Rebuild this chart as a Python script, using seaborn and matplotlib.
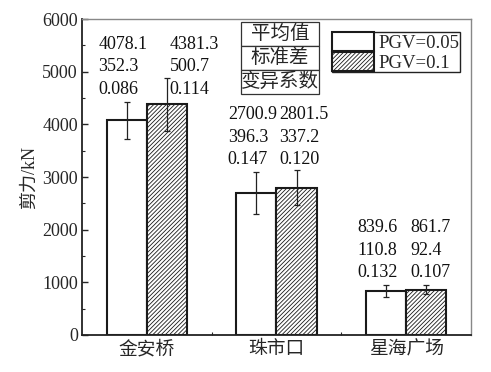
import pandas as pd
import seaborn as sns
import matplotlib.pyplot as plt
from matplotlib.patches import Patch
from matplotlib.ticker import MultipleLocator, FixedLocator

# ---------------- datos ----------------
sitios = ['金安桥', '珠市口', '星海广场']
niveles = ['PGV=0.05', 'PGV=0.1']
media_005 = [4078.1, 2700.9, 839.6]
media_01 = [4381.3, 2801.5, 861.7]
std_005 = [352.3, 396.3, 110.8]
std_01 = [500.7, 337.2, 92.4]
cv_005 = ['0.086', '0.147', '0.132']
cv_01 = ['0.114', '0.120', '0.107']
filas_tabla = ['平均值', '标准差', '变异系数']

df = pd.DataFrame({
    'sitio': sitios * 2,
    'nivel': [niveles[0]] * 3 + [niveles[1]] * 3,
    'media': media_005 + media_01,
})

sns.set_theme(style='ticks')
plt.rcParams['font.family'] = ['Liberation Serif', 'Noto Sans CJK SC']
plt.rcParams['hatch.linewidth'] = 0.6
plt.rcParams['axes.unicode_minus'] = False

fig = plt.figure(figsize=(4.91, 3.72), dpi=100)
ax = fig.add_axes([0.167, 0.0995, 0.792, 0.849])

sns.barplot(data=df, x='sitio', y='media', hue='nivel', hue_order=niveles,
            palette=['white', 'white'], width=0.62, edgecolor='#1a1a1a',
            linewidth=1.5, errorbar=None, legend=False, ax=ax, saturation=1)

rayado = '////////'
stds = [std_005, std_01]
contenedores = list(ax.containers)
for i, cont in enumerate(contenedores):
    xs = [p.get_x() + p.get_width() / 2 for p in cont.patches]
    hs = [p.get_height() for p in cont.patches]
    for p in cont.patches:
        if i == 1:
            p.set_hatch(rayado)
    ax.errorbar(xs, hs, yerr=stds[i], fmt='none', ecolor='#222222',
                elinewidth=0.9, capsize=2.2, capthick=0.9, zorder=5)

# etiquetas de texto (media / desviación / coeficiente)
desp_col2 = [31, 16.5, 17.6]  # desplazamiento en puntos de la segunda columna
bars1 = contenedores[0].patches
for j in range(3):
    xc = bars1[j].get_x() + bars1[j].get_width() / 2
    ytop = media_005[j] + std_005[j]
    t1 = f'{media_005[j]:.1f}\n{std_005[j]:.1f}\n{cv_005[j]}'
    t2 = f'{media_01[j]:.1f}\n{std_01[j]:.1f}\n{cv_01[j]}'
    ax.annotate(t1, (xc, ytop), xytext=(-20.5, 2.5), textcoords='offset points',
                ha='left', va='bottom', fontsize=13, linespacing=1.45, color='#111111')
    ax.annotate(t2, (xc, ytop), xytext=(desp_col2[j], 2.5), textcoords='offset points',
                ha='left', va='bottom', fontsize=13, linespacing=1.45, color='#111111')

# ejes
ax.set_ylim(0, 6000)
ax.set_xlim(-0.5, 2.5)
ax.yaxis.set_major_locator(MultipleLocator(1000))
ax.yaxis.set_minor_locator(MultipleLocator(500))
ax.xaxis.set_minor_locator(FixedLocator([0.5, 1.5]))
ax.tick_params(axis='y', which='major', direction='in', length=4, width=1, labelsize=13, pad=3)
ax.tick_params(axis='y', which='minor', direction='in', length=2.5, width=0.8)
ax.tick_params(axis='x', which='major', length=0, labelsize=13.5, pad=4)
ax.tick_params(axis='x', which='minor', direction='in', length=2.5, width=0.8)
ax.set_xlabel('')
ax.set_ylabel('剪力/kN', fontsize=13, labelpad=3)
for s in ax.spines.values():
    s.set_linewidth(1.3)
    s.set_color('#222222')
ax.spines['top'].set_color('#888888')
ax.spines['right'].set_color('#888888')
ax.spines['top'].set_linewidth(1.0)
ax.spines['right'].set_linewidth(1.0)

# tabla de la leyenda de texto
tabla = ax.table(cellText=[[f] for f in filas_tabla], cellLoc='center',
                 bbox=[0.409, 0.763, 0.2, 0.228])
tabla.auto_set_font_size(False)
for celda in tabla.get_celld().values():
    celda.set_fontsize(14)
    celda.set_linewidth(0.9)
    celda.set_edgecolor('#333333')
    celda.PAD = 0.02

# leyenda
manejadores = [Patch(facecolor='white', edgecolor='#1a1a1a', linewidth=1.5, label=niveles[0]),
               Patch(facecolor='white', edgecolor='#1a1a1a', linewidth=1.5, hatch=rayado, label=niveles[1])]
leg = ax.legend(handles=manejadores, loc='upper left', bbox_to_anchor=(0.643, 0.959),
                borderaxespad=0, fontsize=13.5, handlelength=2.25, handleheight=1.2,
                labelspacing=0.0, borderpad=0.0, handletextpad=0.25, fancybox=False,
                frameon=True, edgecolor='#222222', framealpha=1)
leg.get_frame().set_linewidth(1.0)

fig.savefig('out.png', dpi=100)
plt.close(fig)
